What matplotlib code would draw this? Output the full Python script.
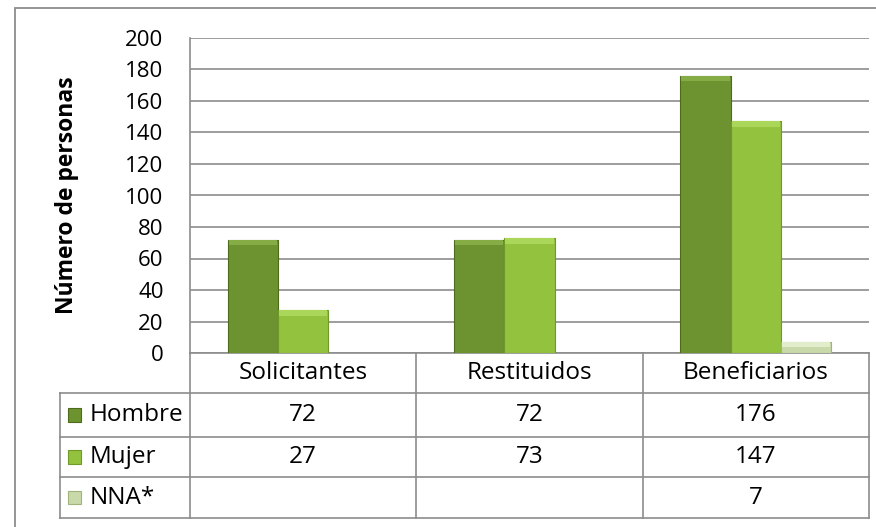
import numpy as np
import matplotlib.pyplot as plt
from matplotlib.patches import Rectangle

plt.rcParams['font.family'] = ['Open Sans', 'DejaVu Sans']

categorias = ['Solicitantes', 'Restituidos', 'Beneficiarios']
series = ['Hombre', 'Mujer', 'NNA*']
hombre = [72, 72, 176]
mujer = [27, 73, 147]
nna = [None, None, 7]
yticks = [0, 20, 40, 60, 80, 100, 120, 140, 160, 180, 200]

colores = ['#6d9330', '#93c23f', '#c9d9aa']
bordes = ['#4e6b1d', '#6f9a28', '#9fb37c']
brillos = ['#86ad45', '#aad65a', '#e2edcc']
gris = '#8c8c8c'

W, H = 876, 527
fig = plt.figure(figsize=(W / 100, H / 100), dpi=100)
# marco exterior
fig.add_artist(Rectangle((15 / W, -0.1), 1.2, 1 - 8 / H + 0.1, transform=fig.transFigure,
                         fill=False, edgecolor=gris, lw=1.3))
ax = fig.add_axes([190 / W, 1 - 353 / H, (869 - 190) / W, (353 - 38) / H])

x = np.arange(len(categorias))
ancho = 0.222
datos = [hombre, mujer, nna]
for i, serie in enumerate(datos):
    xs = [x[j] + (i - 1) * ancho for j in range(len(serie)) if serie[j] is not None]
    vs = [v for v in serie if v is not None]
    ax.bar(xs, vs, ancho, color=colores[i], edgecolor=bordes[i], lw=0.8, zorder=3)
    # bisel superior
    bisel = [min(3.5, v * 0.5) for v in vs]
    ax.bar(xs, bisel, ancho * 0.96, bottom=[v - b for v, b in zip(vs, bisel)],
           color=brillos[i], lw=0, zorder=4)

ax.set_xlim(-0.5, 2.5)
ax.set_ylim(0, 200)
ax.set_yticks(yticks)
ax.set_yticklabels([str(t) for t in yticks], fontsize=16)
ax.tick_params(axis='y', length=0, pad=19)
ax.set_xticks([])
ax.yaxis.grid(True, color=gris, lw=1.2, zorder=0)
for s in ['top', 'right', 'bottom']:
    ax.spines[s].set_visible(False)
ax.spines['left'].set_color(gris)
ax.spines['left'].set_linewidth(1.2)
ax.set_ylabel('Número de personas', fontsize=16.5, fontweight='bold')
ax.yaxis.set_label_coords(-0.181, 0.5)
ax.yaxis.label.set_va('center')

# tabla de datos
tr = ax.get_xaxis_transform()
filas = [0.0, -0.127, -0.267, -0.394, -0.524]
x_izq = -0.5 - 130 / 226.3
x_bordes = [-0.5, 0.5, 1.5, 2.5]
for k, yy in enumerate(filas):
    x0 = -0.5 if k == 0 else x_izq
    ax.plot([x0, 2.5], [yy, yy], color=gris, lw=1.2, transform=tr, clip_on=False)
for xb in x_bordes:
    ax.plot([xb, xb], [filas[0], filas[-1]], color=gris, lw=1.2, transform=tr, clip_on=False)
ax.plot([x_izq, x_izq], [filas[1], filas[-1]], color=gris, lw=1.2, transform=tr, clip_on=False)

fs = 17.5
for j, c in enumerate(categorias):
    ax.text(x[j], (filas[0] + filas[1]) / 2, c, ha='center', va='center', fontsize=fs,
            transform=tr)
for i, serie in enumerate(datos):
    yc = (filas[i + 1] + filas[i + 2]) / 2
    ax.text(x_izq + 30 / 226.3, yc, series[i], ha='left', va='center', fontsize=fs,
            transform=tr)
    ax.add_patch(Rectangle((x_izq + 8 / 226.3, yc - 0.021), 13 / 226.3, 0.042,
                           facecolor=colores[i], edgecolor=bordes[i], lw=0.8,
                           transform=tr, clip_on=False))
    for j, v in enumerate(serie):
        if v is not None:
            ax.text(x[j], yc, str(v), ha='center', va='center', fontsize=fs, transform=tr)

fig.savefig('out.png', dpi=100)
